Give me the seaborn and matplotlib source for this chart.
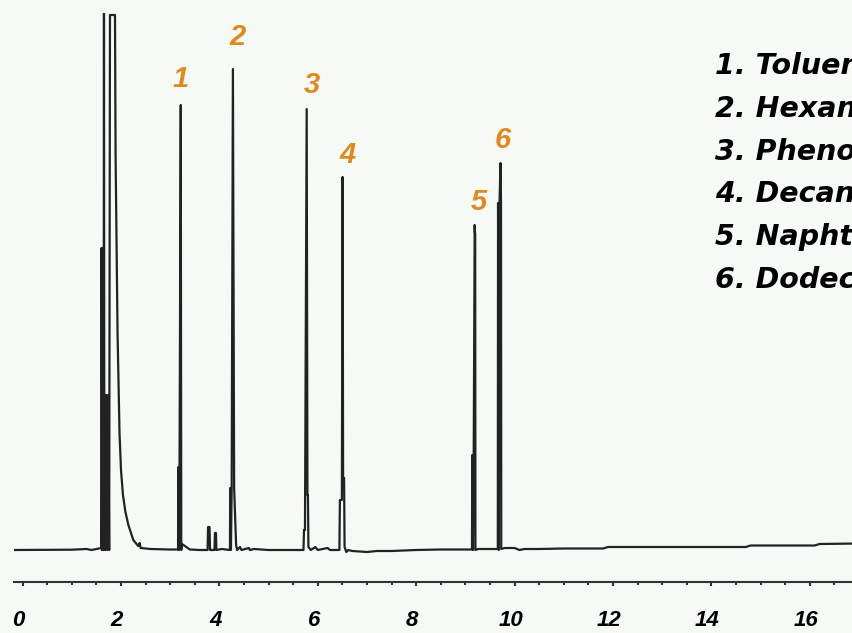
import numpy as np
import pandas as pd
import seaborn as sns
import matplotlib.pyplot as plt
from matplotlib.ticker import MultipleLocator
from matplotlib.transforms import ScaledTranslation

# chromatogram trace, vertices (time in min, detector signal)
rt = [-0.20, 1.00, 1.30, 1.40, 1.55,
      1.600, 1.606, 1.614, 1.622, 1.630, 1.638, 1.646, 1.654,
      1.660, 1.680, 1.700, 1.720, 1.740, 1.760, 1.776, 1.878,
      1.890, 1.930, 1.970, 2.000, 2.040, 2.090, 2.150, 2.250, 2.350, 2.380, 2.400, 2.600,
      3.000, 3.160, 3.165, 3.180, 3.190, 3.215, 3.225, 3.240, 3.400, 3.600,
      3.760, 3.770, 3.800, 3.810, 3.900, 3.910, 3.930, 3.940, 4.050, 4.210,
      4.215, 4.220, 4.235, 4.250, 4.275, 4.300, 4.340, 4.360, 4.420, 4.450, 4.600, 4.620, 4.700, 5.000, 5.700,
      5.710, 5.720, 5.740, 5.775, 5.790, 5.800, 5.810, 5.860, 5.950, 6.000, 6.200, 6.250, 6.430,
      6.440, 6.450, 6.490, 6.505, 6.515, 6.535, 6.545, 6.580, 6.620, 6.700, 7.000, 7.200,
      7.500, 8.000, 8.500, 9.000, 9.130,
      9.135, 9.140, 9.155, 9.170, 9.190, 9.195, 9.200, 9.205, 9.260, 9.400, 9.600, 9.655,
      9.660, 9.665, 9.680, 9.695, 9.715, 9.725, 9.730, 9.800, 10.000, 10.100, 10.200, 10.500,
      11.000, 11.800, 11.900, 14.700, 14.800, 16.100, 16.200, 17.000]
signal = [0.0, 0.3, 1.0, 0.0, 1.5,
          2, 302, 0, 302, 0, 302, 0, 560,
          155, 0, 155, 0, 155, 0, 535, 535,
          395, 217, 117, 80, 55, 38, 25, 10, 4, 7, 2, 1,
          0.5, 0.5, 83, 0, 83, 445, 0, 6, 0.5, 0,
          0, 23, 23, 0, 0, 17, 17, 0, 1, 0,
          0, 62, 0, 62, 481, 62, 5, 0, 3, 0, 2, 0, 1, 0, 0,
          0, 20, 20, 441, 55, 55, 3, 0, 3, 0, 2, 0, 0,
          0, 50, 50, 373, 72, 72, 3, -2, 0, -1, -2, -1,
          -1, 0, 0.5, 0.5, 0.5,
          0.5, 95, 0, 95, 325, 317, 317, 0, 1, 1, 1, 1,
          1, 347, 0, 347, 387, 347, 1, 2, 2, 0, 1, 1,
          1.5, 1.5, 3, 3, 4.5, 4.5, 6, 6.5]

# identified peaks
peak_no = ["1", "2", "3", "4", "5", "6"]
peak_rt = [3.215, 4.275, 5.775, 6.505, 9.190, 9.715]
peak_height = [445, 481, 441, 373, 325, 387]
compounds = ["Toluene", "Hexanol", "Phenol", "Decane", "Naphthalene", "Dodecane"]

# label offsets (min, signal units) so numbers sit above the peak tops
label_dx = [0.0, 0.10, 0.10, 0.10, 0.08, 0.04]
label_dy = [26, 32, 24, 22, 23, 23]

trace = pd.DataFrame({"time": rt, "signal": signal})

sns.set_style("white")
plt.rcParams["font.family"] = ["Liberation Sans", "DejaVu Sans"]

bg = "#f6faf7"
W, H = 852, 633
fig = plt.figure(figsize=(W / 100, H / 100), dpi=100, facecolor=bg)
ax = fig.add_axes([14 / W, (H - 582) / H, (W - 14) / W, (582 - 13) / H])
ax.set_facecolor(bg)

sns.lineplot(data=trace, x="time", y="signal", ax=ax, estimator=None, sort=False,
             color="#222222", linewidth=1.6)

ax.set_xlim(-0.175, 16.86)
ax.set_ylim(-32, 537)
ax.set_xlabel("")
ax.set_ylabel("")
ax.set_yticks([])
for side in ["top", "left", "right"]:
    ax.spines[side].set_visible(False)
ax.spines["bottom"].set_color("#333333")
ax.spines["bottom"].set_linewidth(1.5)

ax.xaxis.set_major_locator(MultipleLocator(2))
ax.xaxis.set_minor_locator(MultipleLocator(0.5))
ax.tick_params(axis="x", which="major", direction="out", length=3, width=1.5,
               color="#333333", pad=17, labelsize=16, labelcolor="black", bottom=True)
ax.tick_params(axis="x", which="minor", direction="out", length=2, width=1.5,
               color="#333333", bottom=True)
for lbl in ax.get_xticklabels():
    lbl.set_fontweight("bold")
    lbl.set_fontstyle("italic")
shift = ScaledTranslation(-4 / 100, 0, fig.dpi_scale_trans)
for lbl in ax.xaxis.get_majorticklabels():
    lbl.set_transform(lbl.get_transform() + shift)

for no, t, h, dx, dy in zip(peak_no, peak_rt, peak_height, label_dx, label_dy):
    ax.text(t + dx, h + dy, no, color="#e0891f", fontsize=21, fontweight="bold",
            fontstyle="italic", ha="center", va="center", clip_on=False)

for i, (no, name) in enumerate(zip(peak_no, compounds)):
    fig.text(715 / W, 1 - (66 + i * 42.8) / H, f"{no}. {name}", fontsize=20.5,
             family=["DejaVu Sans"], fontweight="bold", fontstyle="italic",
             color="black", ha="left", va="center")

fig.savefig("out.png", dpi=100, facecolor=bg)
